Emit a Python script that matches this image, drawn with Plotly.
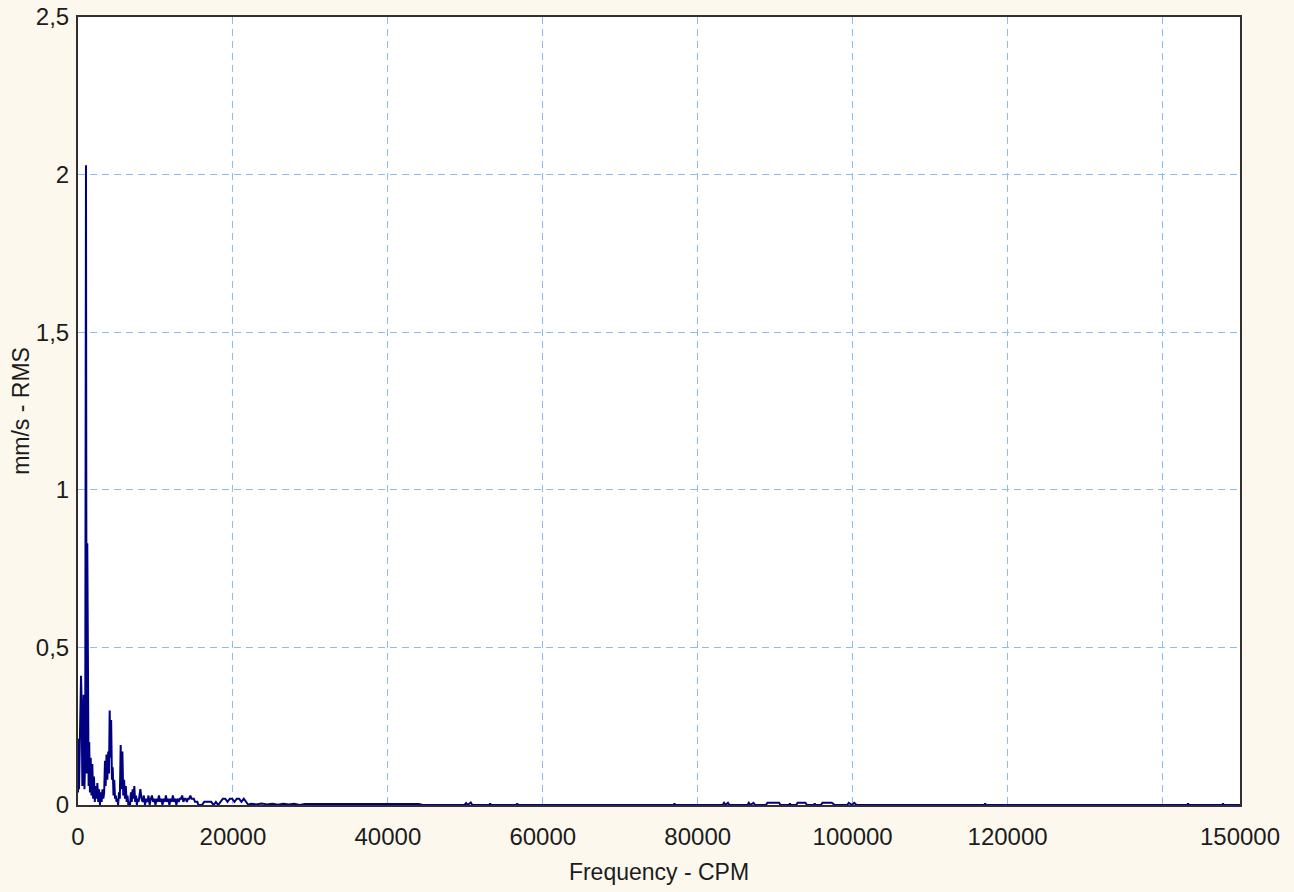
import plotly.graph_objects as go

# ---- data ----
freq_low = [0, 60, 130, 250, 390, 470, 560, 640, 740, 830, 930, 1030, 1110, 1200, 1290,
            1370, 1450, 1540, 1640, 1740, 1850, 1950, 2060, 2170, 2280, 2390, 2500, 2610,
            2720, 2830, 2940, 3050, 3160, 3270, 3380, 3480, 3570, 3680, 3790, 3900, 4000,
            4090, 4180, 4280, 4380, 4480, 4580, 4680, 4780, 4880, 4980, 5080, 5180, 5290,
            5400, 5510, 5620, 5730, 5840, 5950, 6060, 6170, 6280, 6390, 6500, 6610, 6720,
            6830, 6940, 7050, 7160, 7270, 7380, 7490, 7600, 7710, 7820, 7930]
amp_low = [0.04, 0.21, 0.05, 0.22, 0.41, 0.33, 0.06, 0.20, 0.35, 0.05, 0.15, 2.03, 0.10, 0.83, 0.45,
           0.06, 0.20, 0.04, 0.15, 0.03, 0.13, 0.02, 0.09, 0.01, 0.06, 0.02, 0.07, 0.01,
           0.05, 0.00, 0.04, 0.01, 0.05, 0.02, 0.04, 0.14, 0.06, 0.16, 0.08, 0.17, 0.10,
           0.30, 0.15, 0.27, 0.08, 0.12, 0.03, 0.08, 0.02, 0.03, 0.01, 0.02, 0.00, 0.04,
           0.02, 0.19, 0.05, 0.17, 0.03, 0.08, 0.02, 0.06, 0.01, 0.03, 0.00, 0.01, 0.00,
           0.04, 0.01, 0.05, 0.02, 0.06, 0.01, 0.03, 0.00, 0.02, 0.01, 0.03]

freq_mid = [8050, 8200, 8350, 8500, 8650, 8800, 8950, 9100, 9250, 9400, 9550, 9700, 9850,
            10000, 10150, 10300, 10450, 10600, 10750, 10900, 11050, 11200, 11350, 11500,
            11650, 11800, 11950, 12100, 12250, 12400, 12550, 12700, 12850, 13000, 13150,
            13300, 13450, 13600, 13750, 13900, 14050, 14200, 14350, 14500, 14650, 14800,
            14950, 15100, 15250, 15400, 15550, 15700, 16000, 16300, 16600, 16900, 17200,
            17500, 17800, 18100, 18400, 18700, 19000, 19300, 19600, 19900, 20200, 20500,
            20800, 21100, 21400, 21700, 22000]
amp_mid = [0.05, 0.02, 0.01, 0.03, 0.00, 0.02, 0.01, 0.03, 0.00, 0.02, 0.03, 0.01, 0.02,
           0.00, 0.02, 0.01, 0.03, 0.01, 0.02, 0.00, 0.02, 0.01, 0.03, 0.01,
           0.02, 0.00, 0.02, 0.01, 0.03, 0.01, 0.02, 0.00, 0.02, 0.01, 0.02,
           0.02, 0.03, 0.01, 0.02, 0.02, 0.01, 0.02, 0.02, 0.03, 0.02, 0.02,
           0.02, 0.01, 0.01, 0.01, 0.00, 0.00, 0.00, 0.01, 0.01, 0.01, 0.01,
           0.00, 0.01, 0.00, 0.01, 0.02, 0.02, 0.01, 0.02, 0.02, 0.01, 0.02,
           0.02, 0.01, 0.02, 0.01, 0.00]

freq_tail = [22300, 23000, 23700, 24400, 25100, 25800, 26500, 27200, 27900, 28600, 29300,
             30000, 30700, 31400, 32100, 32800, 33500, 34200, 34900, 35600, 36300, 37000,
             37700, 38400, 39100, 39800, 40500, 41200, 41900, 42600, 43300, 44000, 44500,
             49900, 50100, 50300, 50700, 50900, 53100, 53200, 53300, 56600, 56700, 56800,
             76900, 77000, 77100, 83200, 83400, 83600, 83900, 84100, 86400, 86600, 86800,
             87200, 87400, 88800, 89000, 89500, 90000, 90500, 90700, 91800, 91900, 92000,
             92700, 92900, 93400, 93900, 94100, 95000, 95100, 95200, 95900, 96100, 96700,
             97300, 97700, 99300, 99500, 99900, 100200, 100500, 117000, 117100, 117200,
             143200, 143300, 143400, 147700, 147800, 147900, 150000]
amp_tail = [0.004, 0.002, 0.005, 0.002, 0.004, 0.001, 0.004, 0.002, 0.004, 0.000, 0.003,
            0.003, 0.004, 0.003, 0.004, 0.003, 0.004, 0.003, 0.004, 0.003, 0.004, 0.003,
            0.004, 0.003, 0.004, 0.003, 0.004, 0.003, 0.004, 0.003, 0.004, 0.003, 0.000,
            0.000, 0.006, 0.000, 0.008, 0.000, 0.000, 0.005, 0.000, 0.000, 0.005, 0.000,
            0.000, 0.005, 0.000, 0.000, 0.007, 0.000, 0.007, 0.000, 0.000, 0.007, 0.000,
            0.007, 0.000, 0.000, 0.007, 0.007, 0.007, 0.007, 0.000, 0.000, 0.005, 0.000,
            0.000, 0.007, 0.007, 0.007, 0.000, 0.000, 0.005, 0.000, 0.000, 0.007, 0.007,
            0.007, 0.000, 0.000, 0.007, 0.000, 0.007, 0.000, 0.000, 0.005, 0.000,
            0.000, 0.005, 0.000, 0.000, 0.005, 0.000, 0.000]

x_tick_vals = [0, 20000, 40000, 60000, 80000, 100000, 120000, 140000, 150000]
x_tick_text = ["0", "20000", "40000", "60000", "80000", "100000", "120000", "", "150000"]
y_tick_vals = [0, 0.5, 1, 1.5, 2, 2.5]
y_tick_text = ["0", "0,5", "1", "1,5", "2", "2,5"]

freq = freq_low + freq_mid + freq_tail
amp = amp_low + amp_mid + amp_tail

FONT = "Liberation Sans, Arial, sans-serif"
GRID = "#8fbcef"
BG = "#fdf8ed"

fig = go.Figure()
fig.add_trace(go.Scatter(x=freq, y=amp, mode="lines",
                         line=dict(color="#000080", width=2),
                         hoverinfo="x+y", showlegend=False))

fig.update_layout(
    width=1294, height=892,
    margin=dict(l=78, r=54, t=17, b=87, autoexpand=False),
    paper_bgcolor=BG,
    plot_bgcolor="#ffffff",
    font=dict(family=FONT, size=24, color="#1c1c1c"),
    showlegend=False,
)
fig.update_xaxes(
    range=[0, 150000], tickmode="array", tickvals=x_tick_vals, ticktext=x_tick_text,
    showgrid=True, gridcolor=GRID, griddash="7px,5px", gridwidth=1,
    showline=True, mirror=True, linecolor="#303030", linewidth=2,
    zeroline=False, ticks="", ticklabelstandoff=9, automargin=False,
    tickfont=dict(size=24),
    title=dict(text="Frequency - CPM", font=dict(size=23), standoff=15),
)
fig.update_yaxes(
    range=[0, 2.5], tickmode="array", tickvals=y_tick_vals, ticktext=y_tick_text,
    showgrid=True, gridcolor=GRID, griddash="7px,5px", gridwidth=1,
    showline=True, mirror=True, linecolor="#303030", linewidth=2,
    zeroline=False, ticks="", ticklabelstandoff=2, automargin=False,
    tickfont=dict(size=24),
    title=dict(text="mm/s - RMS", font=dict(size=23), standoff=0),
)

fig.write_html("out.html", config={"displayModeBar": False},
               post_script="document.body.style.margin='0';document.body.style.background='%s';" % BG)
